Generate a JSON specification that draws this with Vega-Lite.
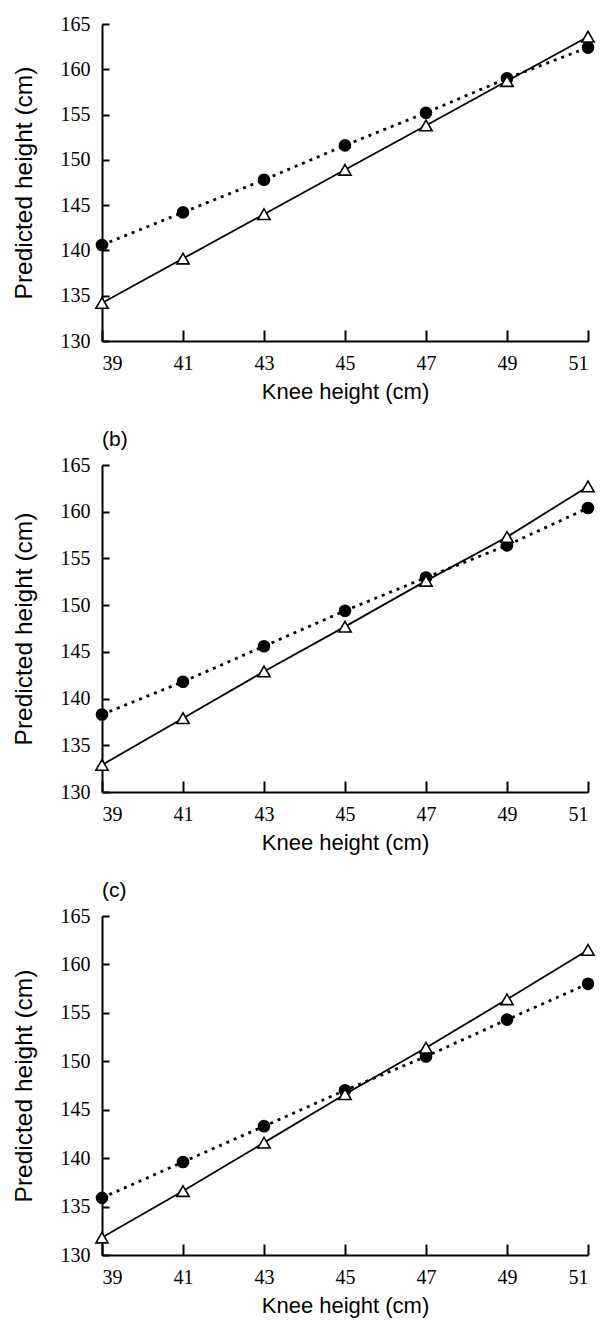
{
  "$schema": "https://vega.github.io/schema/vega-lite/v6.json",
  "background": "white",
  "padding": {"left": 11, "top": 14, "right": 4, "bottom": 2},
  "config": {
    "view": {"stroke": null},
    "axis": {"domainColor": "black", "domainWidth": 2, "tickColor": "black", "tickWidth": 2, "grid": false, "labelFont": "Liberation Serif, Times New Roman, serif", "labelFontSize": 20, "labelColor": "black", "titleFont": "Liberation Sans, Arial, sans-serif", "titleFontWeight": "normal", "titleColor": "black"},
    "axisX": {"labelPadding": 12, "titleFontSize": 22, "titlePadding": 8},
    "axisY": {"labelPadding": 12, "titleFontSize": 24.5, "titlePadding": 24},
    "title": {"font": "Liberation Sans, Arial, sans-serif", "fontSize": 21, "fontWeight": "normal", "anchor": "start", "frame": "group", "color": "black", "offset": 5},
    "concat": {"spacing": 27}
  },
  "datasets": {
    "pts": [
      {"panel": "a", "series": "circle", "knee": 39, "height": 140.6},
      {"panel": "a", "series": "circle", "knee": 41, "height": 144.2},
      {"panel": "a", "series": "circle", "knee": 43, "height": 147.8},
      {"panel": "a", "series": "circle", "knee": 45, "height": 151.6},
      {"panel": "a", "series": "circle", "knee": 47, "height": 155.2},
      {"panel": "a", "series": "circle", "knee": 49, "height": 159.0},
      {"panel": "a", "series": "circle", "knee": 51, "height": 162.4},
      {"panel": "a", "series": "triangle", "knee": 39, "height": 134.2},
      {"panel": "a", "series": "triangle", "knee": 41, "height": 139.1},
      {"panel": "a", "series": "triangle", "knee": 43, "height": 144.0},
      {"panel": "a", "series": "triangle", "knee": 45, "height": 148.9},
      {"panel": "a", "series": "triangle", "knee": 47, "height": 153.8},
      {"panel": "a", "series": "triangle", "knee": 49, "height": 158.7},
      {"panel": "a", "series": "triangle", "knee": 51, "height": 163.6},
      {"panel": "b", "series": "circle", "knee": 39, "height": 138.3},
      {"panel": "b", "series": "circle", "knee": 41, "height": 141.8},
      {"panel": "b", "series": "circle", "knee": 43, "height": 145.6},
      {"panel": "b", "series": "circle", "knee": 45, "height": 149.4},
      {"panel": "b", "series": "circle", "knee": 47, "height": 152.95},
      {"panel": "b", "series": "circle", "knee": 49, "height": 156.4},
      {"panel": "b", "series": "circle", "knee": 51, "height": 160.4},
      {"panel": "b", "series": "triangle", "knee": 39, "height": 132.9},
      {"panel": "b", "series": "triangle", "knee": 41, "height": 137.9},
      {"panel": "b", "series": "triangle", "knee": 43, "height": 142.9},
      {"panel": "b", "series": "triangle", "knee": 45, "height": 147.7},
      {"panel": "b", "series": "triangle", "knee": 47, "height": 152.6},
      {"panel": "b", "series": "triangle", "knee": 49, "height": 157.3},
      {"panel": "b", "series": "triangle", "knee": 51, "height": 162.7},
      {"panel": "c", "series": "circle", "knee": 39, "height": 135.9},
      {"panel": "c", "series": "circle", "knee": 41, "height": 139.6},
      {"panel": "c", "series": "circle", "knee": 43, "height": 143.3},
      {"panel": "c", "series": "circle", "knee": 45, "height": 147.0},
      {"panel": "c", "series": "circle", "knee": 47, "height": 150.5},
      {"panel": "c", "series": "circle", "knee": 49, "height": 154.3},
      {"panel": "c", "series": "circle", "knee": 51, "height": 158.0},
      {"panel": "c", "series": "triangle", "knee": 39, "height": 131.8},
      {"panel": "c", "series": "triangle", "knee": 41, "height": 136.6},
      {"panel": "c", "series": "triangle", "knee": 43, "height": 141.6},
      {"panel": "c", "series": "triangle", "knee": 45, "height": 146.6},
      {"panel": "c", "series": "triangle", "knee": 47, "height": 151.4},
      {"panel": "c", "series": "triangle", "knee": 49, "height": 156.4},
      {"panel": "c", "series": "triangle", "knee": 51, "height": 161.5}
    ]
  },
  "vconcat": [
    {
      "width": 486, "height": 317,
      "data": {"name": "pts"},
      "transform": [{"filter": "datum.panel === 'a'"}],
      "layer": [
        {
          "mark": {"type": "point", "opacity": 0},
          "encoding": {
            "x": {"field": "knee", "type": "quantitative", "scale": {"domain": [39, 51], "nice": false, "zero": false}, "axis": {"orient": "bottom", "offset": -11, "values": [39, 41, 43, 45, 47, 49, 51], "ticks": true, "tickSize": 11, "domain": false, "labels": false, "title": null}},
            "y": {"field": "height", "type": "quantitative", "scale": {"domain": [130, 165], "nice": false, "zero": false}, "axis": {"orient": "left", "offset": -7, "values": [130, 135, 140, 145, 150, 155, 160, 165], "ticks": true, "tickSize": 7, "domain": false, "labels": false, "title": null}}
          }
        },
        {
          "encoding": {
            "x": {"field": "knee", "type": "quantitative", "scale": {"domain": [39, 51], "nice": false, "zero": false}, "axis": {"orient": "bottom", "values": [39, 41, 43, 45, 47, 49, 51], "ticks": false, "title": "Knee height (cm)"}},
            "y": {"field": "height", "type": "quantitative", "scale": {"domain": [130, 165], "nice": false, "zero": false}, "axis": {"orient": "left", "values": [130, 135, 140, 145, 150, 155, 160, 165], "ticks": false, "title": "Predicted height (cm)"}}
          },
          "layer": [
            {"transform": [{"filter": "datum.series === 'circle'"}], "mark": {"type": "line", "color": "black", "strokeWidth": 2.8, "strokeDash": [3, 5]}},
            {"transform": [{"filter": "datum.series === 'triangle'"}], "mark": {"type": "line", "color": "black", "strokeWidth": 1.8}},
            {"transform": [{"filter": "datum.series === 'circle'"}], "mark": {"type": "point", "shape": "circle", "filled": true, "color": "black", "opacity": 1, "size": 160}},
            {"transform": [{"filter": "datum.series === 'triangle'"}], "mark": {"type": "point", "shape": "triangle-up", "filled": true, "fill": "white", "stroke": "black", "strokeWidth": 1.6, "opacity": 1, "size": 150}}
          ]
        }
      ],
      "resolve": {"axis": {"x": "independent", "y": "independent"}}
    },
    {
      "width": 486, "height": 327,
      "title": "(b)",
      "data": {"name": "pts"},
      "transform": [{"filter": "datum.panel === 'b'"}],
      "layer": [
        {
          "mark": {"type": "point", "opacity": 0},
          "encoding": {
            "x": {"field": "knee", "type": "quantitative", "scale": {"domain": [39, 51], "nice": false, "zero": false}, "axis": {"orient": "bottom", "offset": -11, "values": [39, 41, 43, 45, 47, 49, 51], "ticks": true, "tickSize": 11, "domain": false, "labels": false, "title": null}},
            "y": {"field": "height", "type": "quantitative", "scale": {"domain": [130, 165], "nice": false, "zero": false}, "axis": {"orient": "left", "offset": -7, "values": [130, 135, 140, 145, 150, 155, 160, 165], "ticks": true, "tickSize": 7, "domain": false, "labels": false, "title": null}}
          }
        },
        {
          "encoding": {
            "x": {"field": "knee", "type": "quantitative", "scale": {"domain": [39, 51], "nice": false, "zero": false}, "axis": {"orient": "bottom", "values": [39, 41, 43, 45, 47, 49, 51], "ticks": false, "title": "Knee height (cm)"}},
            "y": {"field": "height", "type": "quantitative", "scale": {"domain": [130, 165], "nice": false, "zero": false}, "axis": {"orient": "left", "values": [130, 135, 140, 145, 150, 155, 160, 165], "ticks": false, "title": "Predicted height (cm)"}}
          },
          "layer": [
            {"transform": [{"filter": "datum.series === 'circle'"}], "mark": {"type": "line", "color": "black", "strokeWidth": 2.8, "strokeDash": [3, 5]}},
            {"transform": [{"filter": "datum.series === 'triangle'"}], "mark": {"type": "line", "color": "black", "strokeWidth": 1.8}},
            {"transform": [{"filter": "datum.series === 'circle'"}], "mark": {"type": "point", "shape": "circle", "filled": true, "color": "black", "opacity": 1, "size": 160}},
            {"transform": [{"filter": "datum.series === 'triangle'"}], "mark": {"type": "point", "shape": "triangle-up", "filled": true, "fill": "white", "stroke": "black", "strokeWidth": 1.6, "opacity": 1, "size": 150}}
          ]
        }
      ],
      "resolve": {"axis": {"x": "independent", "y": "independent"}}
    },
    {
      "width": 486, "height": 339,
      "title": "(c)",
      "data": {"name": "pts"},
      "transform": [{"filter": "datum.panel === 'c'"}],
      "layer": [
        {
          "mark": {"type": "point", "opacity": 0},
          "encoding": {
            "x": {"field": "knee", "type": "quantitative", "scale": {"domain": [39, 51], "nice": false, "zero": false}, "axis": {"orient": "bottom", "offset": -11, "values": [39, 41, 43, 45, 47, 49, 51], "ticks": true, "tickSize": 11, "domain": false, "labels": false, "title": null}},
            "y": {"field": "height", "type": "quantitative", "scale": {"domain": [130, 165], "nice": false, "zero": false}, "axis": {"orient": "left", "offset": -7, "values": [130, 135, 140, 145, 150, 155, 160, 165], "ticks": true, "tickSize": 7, "domain": false, "labels": false, "title": null}}
          }
        },
        {
          "encoding": {
            "x": {"field": "knee", "type": "quantitative", "scale": {"domain": [39, 51], "nice": false, "zero": false}, "axis": {"orient": "bottom", "values": [39, 41, 43, 45, 47, 49, 51], "ticks": false, "title": "Knee height (cm)"}},
            "y": {"field": "height", "type": "quantitative", "scale": {"domain": [130, 165], "nice": false, "zero": false}, "axis": {"orient": "left", "values": [130, 135, 140, 145, 150, 155, 160, 165], "ticks": false, "title": "Predicted height (cm)"}}
          },
          "layer": [
            {"transform": [{"filter": "datum.series === 'circle'"}], "mark": {"type": "line", "color": "black", "strokeWidth": 2.8, "strokeDash": [3, 5]}},
            {"transform": [{"filter": "datum.series === 'triangle'"}], "mark": {"type": "line", "color": "black", "strokeWidth": 1.8}},
            {"transform": [{"filter": "datum.series === 'circle'"}], "mark": {"type": "point", "shape": "circle", "filled": true, "color": "black", "opacity": 1, "size": 160}},
            {"transform": [{"filter": "datum.series === 'triangle'"}], "mark": {"type": "point", "shape": "triangle-up", "filled": true, "fill": "white", "stroke": "black", "strokeWidth": 1.6, "opacity": 1, "size": 150}}
          ]
        }
      ],
      "resolve": {"axis": {"x": "independent", "y": "independent"}}
    }
  ]
}
